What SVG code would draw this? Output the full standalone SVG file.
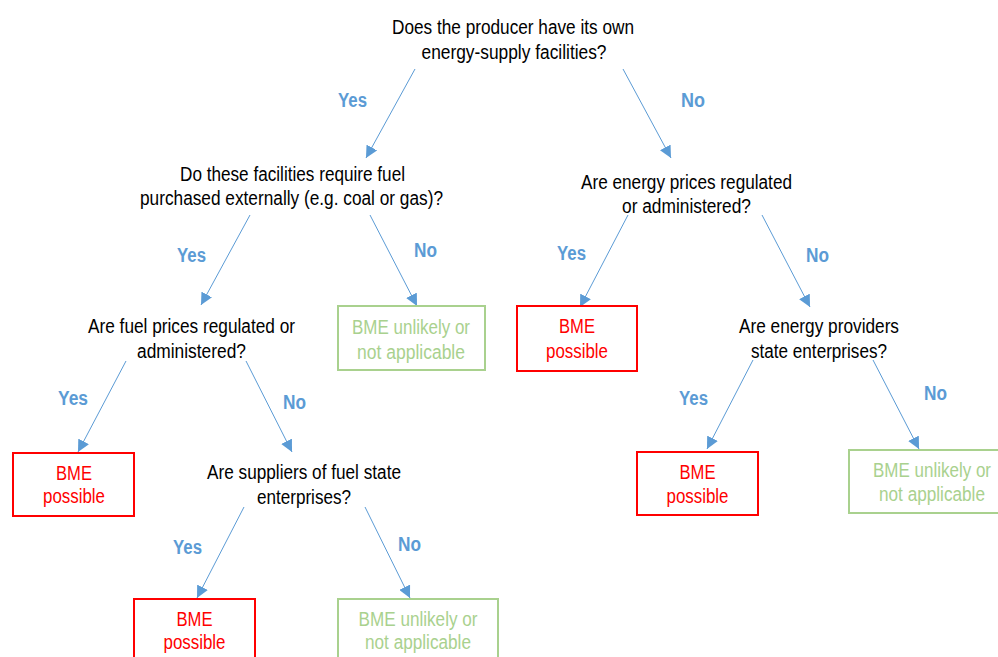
<svg xmlns="http://www.w3.org/2000/svg" width="998" height="657" viewBox="0 0 998 657">
<defs>
<marker id="ah" markerUnits="userSpaceOnUse" markerWidth="12" markerHeight="12" viewBox="0 0 12 12" refX="12" refY="6" orient="auto">
<path d="M0,0 L12,6 L0,12 z" fill="#5b9bd5"/>
</marker>
</defs>
<style>
text{font-family:"Liberation Sans",Arial,sans-serif;font-size:20px;text-anchor:middle}
.q{fill:#000}
.lbl{fill:#5b9bd5;font-weight:bold}
.red{fill:#ff0000}
.grn{fill:#a9d18e}
.rbox{fill:#fff;stroke:#ff0000;stroke-width:2}
.gbox{fill:#fff;stroke:#a9d18e;stroke-width:2}
.conn line{stroke:#5b9bd5;stroke-width:1;marker-end:url(#ah)}
</style>
<rect width="998" height="657" fill="#fff"/>
<g id="connectors" class="conn">
<line x1="415" y1="69" x2="366" y2="158"/>
<line x1="623" y1="69" x2="671" y2="158"/>
<line x1="250" y1="215" x2="201" y2="305"/>
<line x1="370" y1="215" x2="417" y2="306"/>
<line x1="628" y1="215" x2="580" y2="307"/>
<line x1="762" y1="215" x2="810" y2="307"/>
<line x1="126" y1="361" x2="78" y2="452"/>
<line x1="246" y1="361" x2="292" y2="452"/>
<line x1="753" y1="360" x2="707" y2="449"/>
<line x1="873" y1="360" x2="919" y2="449"/>
<line x1="244" y1="507" x2="197" y2="598"/>
<line x1="365" y1="507" x2="410" y2="598"/>
</g>
<g id="labels">
<text class="lbl" x="352.5" y="107" textLength="29" lengthAdjust="spacingAndGlyphs">Yes</text>
<text class="lbl" x="693" y="107" textLength="24" lengthAdjust="spacingAndGlyphs">No</text>
<text class="lbl" x="191.5" y="262" textLength="29" lengthAdjust="spacingAndGlyphs">Yes</text>
<text class="lbl" x="425.5" y="257" textLength="23" lengthAdjust="spacingAndGlyphs">No</text>
<text class="lbl" x="571.5" y="260" textLength="29" lengthAdjust="spacingAndGlyphs">Yes</text>
<text class="lbl" x="817.5" y="262" textLength="23" lengthAdjust="spacingAndGlyphs">No</text>
<text class="lbl" x="73" y="405" textLength="30" lengthAdjust="spacingAndGlyphs">Yes</text>
<text class="lbl" x="294.5" y="409" textLength="23" lengthAdjust="spacingAndGlyphs">No</text>
<text class="lbl" x="693.5" y="405" textLength="29" lengthAdjust="spacingAndGlyphs">Yes</text>
<text class="lbl" x="935.5" y="400" textLength="23" lengthAdjust="spacingAndGlyphs">No</text>
<text class="lbl" x="187.5" y="554" textLength="29" lengthAdjust="spacingAndGlyphs">Yes</text>
<text class="lbl" x="409.5" y="551" textLength="23" lengthAdjust="spacingAndGlyphs">No</text>
</g>
<g id="q1">
<text class="q" x="513" y="34" textLength="242" lengthAdjust="spacingAndGlyphs">Does the producer have its own</text>
<text class="q" x="514" y="59" textLength="185" lengthAdjust="spacingAndGlyphs">energy-supply facilities?</text>
</g>
<g id="q2">
<text class="q" x="292.5" y="181" textLength="225" lengthAdjust="spacingAndGlyphs">Do these facilities require fuel</text>
<text class="q" x="291.5" y="205" textLength="303" lengthAdjust="spacingAndGlyphs">purchased externally (e.g. coal or gas)?</text>
</g>
<g id="q3">
<text class="q" x="686.5" y="189" textLength="211" lengthAdjust="spacingAndGlyphs">Are energy prices regulated</text>
<text class="q" x="686.5" y="213" textLength="129" lengthAdjust="spacingAndGlyphs">or administered?</text>
</g>
<g id="q4">
<text class="q" x="191.5" y="333" textLength="207" lengthAdjust="spacingAndGlyphs">Are fuel prices regulated or</text>
<text class="q" x="191.5" y="358" textLength="109" lengthAdjust="spacingAndGlyphs">administered?</text>
</g>
<g id="q5">
<text class="q" x="819" y="333" textLength="160" lengthAdjust="spacingAndGlyphs">Are energy providers</text>
<text class="q" x="819" y="358" textLength="136" lengthAdjust="spacingAndGlyphs">state enterprises?</text>
</g>
<g id="q6">
<text class="q" x="304" y="479" textLength="194" lengthAdjust="spacingAndGlyphs">Are suppliers of fuel state</text>
<text class="q" x="304" y="504" textLength="94" lengthAdjust="spacingAndGlyphs">enterprises?</text>
</g>
<g id="e1">
<rect class="gbox" x="338" y="306" width="147" height="64"/>
<text class="grn" x="411" y="334" textLength="118" lengthAdjust="spacingAndGlyphs">BME unlikely or</text>
<text class="grn" x="411" y="359" textLength="108" lengthAdjust="spacingAndGlyphs">not applicable</text>
</g>
<g id="e2">
<rect class="rbox" x="517" y="306" width="120" height="65"/>
<text class="red" x="577" y="333" textLength="36" lengthAdjust="spacingAndGlyphs">BME</text>
<text class="red" x="577" y="358" textLength="62" lengthAdjust="spacingAndGlyphs">possible</text>
</g>
<g id="e3">
<rect class="rbox" x="13" y="453" width="121" height="63"/>
<text class="red" x="74" y="480" textLength="36" lengthAdjust="spacingAndGlyphs">BME</text>
<text class="red" x="74" y="503" textLength="62" lengthAdjust="spacingAndGlyphs">possible</text>
</g>
<g id="e4">
<rect class="rbox" x="637" y="452" width="121" height="63"/>
<text class="red" x="697.5" y="479" textLength="36" lengthAdjust="spacingAndGlyphs">BME</text>
<text class="red" x="697.5" y="503" textLength="62" lengthAdjust="spacingAndGlyphs">possible</text>
</g>
<g id="e5">
<rect class="gbox" x="849" y="450" width="166" height="63"/>
<text class="grn" x="932" y="477" textLength="118" lengthAdjust="spacingAndGlyphs">BME unlikely or</text>
<text class="grn" x="932" y="501" textLength="106" lengthAdjust="spacingAndGlyphs">not applicable</text>
</g>
<g id="e6">
<rect class="rbox" x="134" y="599" width="121" height="70"/>
<text class="red" x="194.5" y="626" textLength="36" lengthAdjust="spacingAndGlyphs">BME</text>
<text class="red" x="194.5" y="649" textLength="62" lengthAdjust="spacingAndGlyphs">possible</text>
</g>
<g id="e7">
<rect class="gbox" x="338" y="599" width="160" height="70"/>
<text class="grn" x="418" y="626" textLength="119" lengthAdjust="spacingAndGlyphs">BME unlikely or</text>
<text class="grn" x="418" y="649" textLength="106" lengthAdjust="spacingAndGlyphs">not applicable</text>
</g>
</svg>
